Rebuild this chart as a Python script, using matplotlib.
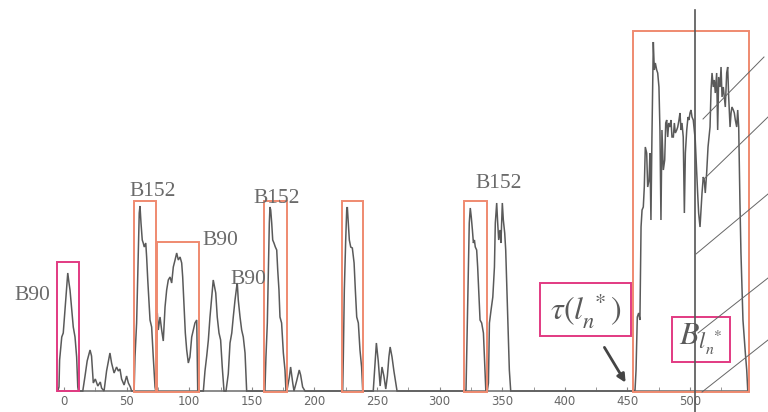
import matplotlib
matplotlib.use("Agg")
import matplotlib.pyplot as plt
import numpy as np

plt.rcParams['mathtext.fontset'] = 'stix'

# ---- signal segments (x position, height) ----
b90a_x = [-5, -4, -3.5, -1.8, -0.6, 0.8, 2.2, 3, 4, 4.8, 6.2, 7.4, 8.8, 10.1, 11, 11.5]
b90a_y = [0, 4, 31, 54, 58, 81, 104, 118, 108, 101, 81, 64, 54, 34, 4, 0]

noise1_x = [15, 16.8, 18.5, 20.8, 22, 23.4, 25, 27, 29, 30, 32, 34, 35.5, 36.7, 38, 40, 42, 43.4, 44.7, 46, 48, 50, 51.4, 53, 54]
noise1_y = [0, 15, 30, 41, 35, 8, 12, 5, 9, 3, 0, 20, 30, 38, 28, 18, 24, 20, 22, 12, 6, 15, 8, 4, 0]

b152a_x = [56, 56.7, 58, 59.3, 60.1, 60.7, 61.5, 62.5, 63.3, 64.1, 65.3, 66, 66.9, 67.9, 68.7, 70, 71.3, 72.7, 73.3]
b152a_y = [0, 34, 68, 134, 178, 185, 168, 151, 148, 144, 148, 134, 111, 88, 71, 64, 34, 4, 0]

b90b_x = [74.3, 74.5, 75.3, 76.7, 78, 79.3, 80.7, 82, 83.3, 84.7, 86, 87.3, 88.7, 90, 91.3, 92.7, 94, 94.8, 95.8, 96.9, 98, 99.3, 100.6, 102, 103.3, 104.6, 106, 106.8]
b90b_y = [0, 78, 61, 74, 61, 50, 84, 101, 111, 114, 108, 124, 131, 138, 131, 134, 128, 114, 88, 58, 41, 28, 34, 54, 61, 68, 71, 1]

mid_x = [108.6, 111.3, 112.6, 114, 115.3, 116.6, 118, 119.2, 120, 121.2, 122.4, 123.8, 125.1, 126.4, 127.8, 129.4, 131.2, 132.6, 134, 135.2, 136.6, 137.9, 138.4, 139.2, 140.6, 141.9, 143.2, 144.6, 145.9]
mid_y = [0, 0, 20, 35, 51, 74, 94, 111, 106, 98, 74, 58, 51, 24, 0, 0, 17, 48, 58, 74, 91, 104, 108, 91, 74, 61, 54, 38, 0]

b152b_x = [160, 160.5, 161.3, 162.4, 163.2, 164, 164.5, 165.1, 165.9, 166.7, 167.7, 168.8, 169.9, 170.7, 171.7, 172.5, 173.8, 175.2, 176.5, 177.3]
b152b_y = [0, 1, 34, 68, 118, 168, 184, 181, 168, 151, 148, 144, 141, 121, 101, 74, 68, 38, 21, 0]

noise2_x = [178, 180, 181, 182.7, 183.7, 185.8, 187.9, 189, 190.6, 192.5]
noise2_y = [0, 14, 24, 8, 0, 10, 21, 16, 4, 0]

box5_x = [222, 222.6, 223.1, 223.9, 225, 225.8, 226.3, 227.1, 227.9, 229, 230.3, 231.7, 232.7, 233.8, 235.1, 236.4, 237.7, 238.6]
box5_y = [0, 1, 34, 101, 151, 181, 184, 168, 151, 144, 143, 128, 101, 74, 68, 41, 24, 0]

noise3_x = [247, 249.5, 251, 252.5, 254, 255.5, 257, 258.3, 259.5, 260.5, 262, 263.5, 265, 266]
noise3_y = [0, 48, 30, 5, 24, 15, 2, 15, 34, 44, 34, 20, 8, 0]

b152c_x = [319.5, 321.1, 321.6, 322.7, 323.7, 324.5, 325.3, 326.2, 327, 327.8, 328.5, 329.6, 330.4, 331.5, 332.3, 333.6, 335, 335.8, 336.9, 338.2, 339, 339.8, 341.1, 342.5, 343.8, 344.5, 345.6, 346.4, 347.2, 348.2, 349, 350.1, 350.9, 352, 352.8, 353.6, 354.6, 355.7, 356.8]
b152c_y = [0, 1, 34, 101, 168, 183, 174, 161, 148, 151, 144, 141, 124, 94, 71, 68, 58, 34, 1, 1, 8, 68, 81, 94, 124, 168, 188, 168, 151, 161, 148, 188, 171, 158, 141, 108, 68, 21, 0]

big_x = [455, 456.1, 456.9, 457.9, 459, 460, 460.9, 461.7, 462.7, 463.5, 464.3, 465.4, 466.2, 467.3, 468, 468.8, 469.6,
         470.2, 470.7, 471.5, 472.3, 473.4, 474.2, 475.2, 476, 476.8, 477.6, 478.7, 479.8, 480.6, 481.4, 482.2, 483,
         484, 484.8, 485.6, 486.7, 487.5, 488.3, 489.4, 490.2, 491.2, 492, 492.8, 493.6, 494.6, 495.5, 496.3, 497.4,
         498.4, 499.2, 500, 500.8, 501.6, 502.6, 503.4, 504.2, 505, 506.1, 506.9, 508, 508.8, 509.6, 510.6, 511.4,
         512.2, 513.3, 514.4, 515.2, 516, 516.8, 517.6, 518.6, 519.4, 520.2, 521.3, 522.1, 522.9, 524, 524.8, 525.6,
         526.6, 527.4, 528.2, 529.3, 530.1, 530.9, 532, 532.8, 533.5, 534.6, 535.4, 536.2, 537.3, 538.1, 538.9,
         539.9, 540.7, 541.5, 542.3, 543.4, 544.2, 545.3, 546.1, 547]
big_y = [0, 1, 21, 74, 78, 71, 164, 181, 184, 204, 244, 238, 204, 211, 238, 171, 254,
         304, 349, 321, 328, 321, 318, 304, 261, 171, 261, 221, 231, 268, 271, 254, 268,
         264, 271, 254, 254, 268, 258, 261, 264, 271, 278, 261, 268, 254, 178, 238, 261,
         274, 271, 278, 281, 274, 271, 261, 251, 228, 198, 178, 164, 181, 198, 214, 211,
         198, 218, 244, 254, 264, 301, 318, 304, 311, 298, 318, 261, 314, 304, 324, 294,
         304, 294, 284, 318, 324, 294, 264, 278, 284, 281, 278, 271, 264, 281, 264,
         188, 138, 104, 71, 51, 38, 21, 1, 0]

# ---- boxes: (x0, x1, bottom, top) ----
orange_x0 = [56, 74.3, 159.7, 222, 319.5, 454.5]
orange_x1 = [73.5, 107.8, 178.1, 238.8, 337.9, 547.1]
orange_top = [190, 149, 190, 190, 190, 360]
magenta_x0 = [-5.6, 380.2, 485.6]
magenta_x1 = [12, 452.5, 532]
magenta_y0 = [0, 55, 29]
magenta_y1 = [129, 108, 74]

# ---- labels ----
label_text = ["B90", "B152", "B90", "B90", "B152", "B152"]
label_x = [-25.6, 71.1, 124.6, 147, 170.1, 347.4]
label_y = [96, 200, 151, 111, 193, 208]

xtick_vals = [0, 50, 100, 150, 200, 250, 300, 350, 400, 450, 500]
marker_x = 504.0

diag_x0 = [510.4, 510.4, 504.8, 506.4, 509.6]
diag_y0 = [272, 211, 137, 58, -1]
diag_x1 = [559.1, 562.3, 562.3, 562.3, 562.3]
diag_y1 = [334, 274, 197, 113, 51]

# build full signal
segs_x = [b90a_x, noise1_x, b152a_x, b90b_x, mid_x, b152b_x, noise2_x, box5_x, noise3_x, b152c_x, big_x]
segs_y = [b90a_y, noise1_y, b152a_y, b90b_y, mid_y, b152b_y, noise2_y, box5_y, noise3_y, b152c_y, big_y]
sig_x = np.concatenate([np.array(s, float) for s in segs_x])
sig_y = np.concatenate([np.array(s, float) for s in segs_y])

fig = plt.figure(figsize=(7.68, 4.12), dpi=100)
ax = fig.add_axes([0, 0, 1, 1])
ax.set_xlim(-64 / 1.252, (768 - 64) / 1.252)
ax.set_ylim(-21, 391)

GRAY = '#5a5a5a'
ORANGE = '#ef8a70'
MAG = '#e23a82'

ax.plot(sig_x, sig_y, color=GRAY, lw=1.1, solid_joinstyle='miter', zorder=3)

for x0, x1, t in zip(orange_x0, orange_x1, orange_top):
    ax.add_patch(plt.Rectangle((x0, -0.5), x1 - x0, t + 0.5, fill=False, ec=ORANGE, lw=1.4, zorder=4))
for x0, x1, y0, y1 in zip(magenta_x0, magenta_x1, magenta_y0, magenta_y1):
    ax.add_patch(plt.Rectangle((x0, y0), x1 - x0, y1 - y0, fill=False, ec=MAG, lw=1.4, zorder=4))

for t, x, y in zip(label_text, label_x, label_y):
    ax.text(x, y, t, family='Liberation Serif', fontsize=15.5, color='#6a6a6a',
            ha='center', va='center', zorder=5)

ax.text(416.5, 81, r'$\tau(l_n^{\ *})$', fontsize=23, color='#5a5a5a', ha='center', va='center', zorder=5)
ax.text(508.5, 52, r'$B_{l_n^{\ *}}$', fontsize=23, color='#5a5a5a', ha='center', va='center', zorder=5)

ax.annotate('', xy=(449.7, 6), xytext=(430.5, 46),
            arrowprops=dict(arrowstyle='-|>', color='#444444', lw=2.0, mutation_scale=12), zorder=5)

ax.plot([marker_x, marker_x], [-21, 381], color='#555555', lw=1.2, zorder=5)

for a, b, c, d in zip(diag_x0, diag_y0, diag_x1, diag_y1):
    ax.plot([a, c], [b, d], color='#666666', lw=0.7, zorder=5)

for s in ['top', 'right', 'left']:
    ax.spines[s].set_visible(False)
ax.spines['bottom'].set_position(('data', 0))
ax.spines['bottom'].set_bounds(-5, 547)
ax.spines['bottom'].set_color('#777777')
ax.spines['bottom'].set_linewidth(1.2)
ax.set_yticks([])
ax.set_xticks(xtick_vals)
ax.set_xticks(np.arange(25, 550, 50), minor=True)
ax.tick_params(axis='x', which='both', direction='in', length=3, color='#888888',
               labelsize=8.5, labelcolor='#666666', pad=3)

fig.savefig('out.png', dpi=100, facecolor='white')
